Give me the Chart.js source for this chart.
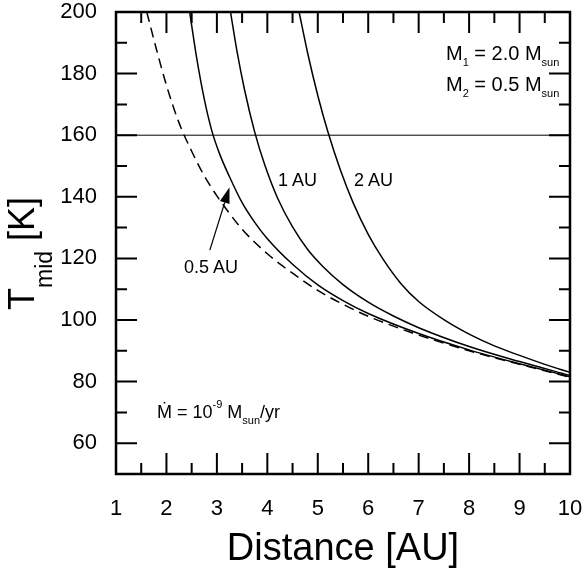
<!DOCTYPE html>
<html>
<head>
<meta charset="utf-8">
<script src="https://cdn.jsdelivr.net/npm/chart.js@4.4.1/dist/chart.umd.min.js"></script>
<style>
  html, body { margin: 0; padding: 0; background: #fff; }
  #wrap { position: relative; width: 584px; height: 573px; font-family: "Liberation Sans", Arial, sans-serif; color: #000; }
  #wrap canvas { position: absolute; left: 0; top: 0; }
  .note { position: absolute; white-space: nowrap; line-height: 1; }
  .sub { position: relative; }
</style>
</head>
<body>
<div id="wrap">
  <canvas id="myChart" width="584" height="573"></canvas>
  <div class="note" style="left:446px; top:43px; font-size:20px;">M<span class="sub" style="font-size:11px; top:6px;">1</span> = 2.0 M<span class="sub" style="font-size:11px; top:6px;">sun</span></div>
  <div class="note" style="left:446px; top:74px; font-size:20px;">M<span class="sub" style="font-size:11px; top:6px;">2</span> = 0.5 M<span class="sub" style="font-size:11px; top:6px;">sun</span></div>
  <div class="note" style="left:157px; top:403px; font-size:18px;">Ṁ = 10<span class="sub" style="font-size:11px; top:-10px;">-9</span> M<span class="sub" style="font-size:11px; top:6px;">sun</span>/yr</div>
  <div class="note" style="left:278px; top:171px; font-size:18px;">1 AU</div>
  <div class="note" style="left:354px; top:171px; font-size:18px;">2 AU</div>
  <div class="note" style="left:184px; top:258px; font-size:18px;">0.5 AU</div>
  <div class="note" style="left:4px; top:310px; font-size:36px; transform-origin:left top; transform:rotate(-90deg);">T<span class="sub" style="font-size:23px; top:18px;">mid</span> [K]</div>
</div>
<script>
// single star (dashed)
const distSingle = [1.61, 1.8, 2, 2.25, 2.5, 2.75, 3, 3.5, 4, 4.5, 5, 5.5, 6, 6.5, 7, 8, 9, 10];
const tempSingle = [200, 188, 176.2, 164, 154.8, 146.8, 140.3, 129.5, 121.5, 115.2, 109.6, 105.1, 101.2, 98, 95.1, 90, 85.6, 81.4];

// binary separation 0.5 AU
const dist05 = [2.46, 2.6, 2.75, 2.9, 3.05, 3.25, 3.5, 3.75, 4, 4.5, 5, 5.5, 6, 7, 8, 9, 10];
const temp05 = [200, 185, 171.7, 161.4, 154.1, 146.5, 138.1, 131.7, 126.4, 118.1, 111.4, 106.3, 102.1, 95.6, 90.3, 85.8, 81.6];

// binary separation 1 AU
const dist1 = [3.27, 3.4, 3.55, 3.75, 3.95, 4.2, 4.5, 4.8, 5.1, 5.5, 6, 6.5, 7, 8, 9, 10];
const temp1 = [200, 187.1, 174.6, 161, 150.3, 139.7, 130.2, 122.9, 117.4, 111.5, 105.8, 101.3, 97.5, 91.4, 86.5, 82];

// binary separation 2 AU
const dist2 = [4.63, 4.8, 5, 5.2, 5.45, 5.7, 6, 6.3, 6.65, 7, 7.5, 8, 8.5, 9, 9.5, 10];
const temp2 = [200, 186.6, 172.9, 161.1, 148.6, 138.1, 127.8, 119.6, 111.8, 106, 100.1, 95.4, 91.6, 88.5, 85.6, 83];

const iceLineT = 160;

const xTicks = [1, 2, 3, 4, 5, 6, 7, 8, 9, 10];
const yTicks = [60, 80, 100, 120, 140, 160, 180, 200];

// arrow pointing at the 0.5 AU curve (data coords)
const arrowFrom = [2.86, 122.7];
const arrowTo = [3.25, 143.1];

function pts(xs, ys) {
    return xs.map((v, i) => ({ x: v, y: ys[i] }));
}
function mids(arr) {
    const out = [];
    for (let i = 0; i < arr.length - 1; i++) out.push((arr[i] + arr[i + 1]) / 2);
    return out;
}

const frameTicks = {
    id: 'frameTicks',
    afterDatasetsDraw(chart) {
        const { ctx, chartArea: a, scales: { x, y } } = chart;
        ctx.save();
        ctx.strokeStyle = '#000';
        ctx.lineWidth = 2;
        ctx.beginPath();
        const tickX = (vals, len) => vals.forEach(v => {
            const p = x.getPixelForValue(v);
            ctx.moveTo(p, a.bottom); ctx.lineTo(p, a.bottom - len);
            ctx.moveTo(p, a.top); ctx.lineTo(p, a.top + len);
        });
        const tickY = (vals, len) => vals.forEach(v => {
            const p = y.getPixelForValue(v);
            ctx.moveTo(a.left, p); ctx.lineTo(a.left + len, p);
            ctx.moveTo(a.right, p); ctx.lineTo(a.right - len, p);
        });
        tickX(xTicks, 21);
        tickX(mids(xTicks), 11);
        tickY(yTicks, 21);
        tickY(mids(yTicks), 11);
        ctx.stroke();

        ctx.lineWidth = 2.5;
        ctx.strokeRect(a.left, a.top, a.right - a.left, a.bottom - a.top);

        // arrow
        const x0 = x.getPixelForValue(arrowFrom[0]), y0 = y.getPixelForValue(arrowFrom[1]);
        const x1 = x.getPixelForValue(arrowTo[0]), y1 = y.getPixelForValue(arrowTo[1]);
        const ang = Math.atan2(y1 - y0, x1 - x0);
        const hl = 16, hw = 5;
        const bx = x1 - hl * Math.cos(ang), by = y1 - hl * Math.sin(ang);
        ctx.lineWidth = 1.2;
        ctx.beginPath();
        ctx.moveTo(x0, y0);
        ctx.lineTo(bx, by);
        ctx.stroke();
        ctx.fillStyle = '#000';
        ctx.beginPath();
        ctx.moveTo(x1, y1);
        ctx.lineTo(bx + hw * Math.sin(ang), by - hw * Math.cos(ang));
        ctx.lineTo(bx - hw * Math.sin(ang), by + hw * Math.cos(ang));
        ctx.closePath();
        ctx.fill();
        ctx.restore();
    }
};

const lineStyle = {
    showLine: true,
    pointRadius: 0,
    borderColor: '#000',
    borderWidth: 1.5,
    fill: false,
    cubicInterpolationMode: 'monotone'
};

new Chart(document.getElementById('myChart'), {
    type: 'scatter',
    data: {
        datasets: [
            { ...lineStyle, label: 'single', data: pts(distSingle, tempSingle), borderDash: [10, 6] },
            { ...lineStyle, label: '0.5 AU', data: pts(dist05, temp05) },
            { ...lineStyle, label: '1 AU', data: pts(dist1, temp1) },
            { ...lineStyle, label: '2 AU', data: pts(dist2, temp2) },
            { ...lineStyle, label: 'T = 160 K', borderWidth: 1, cubicInterpolationMode: 'default',
              data: [{ x: xTicks[0], y: iceLineT }, { x: xTicks[xTicks.length - 1], y: iceLineT }] }
        ]
    },
    options: {
        responsive: false,
        devicePixelRatio: 1,
        animation: false,
        layout: { padding: { top: 12, right: 14, left: 0, bottom: 0 } },
        plugins: { legend: { display: false }, tooltip: { enabled: false } },
        scales: {
            x: {
                type: 'linear',
                min: 1,
                max: 10,
                grid: { display: false, drawTicks: false, tickLength: 0 },
                border: { display: false },
                afterBuildTicks: (s) => { s.ticks = xTicks.map(v => ({ value: v })); },
                afterFit: (s) => { s.height = 99; s.paddingLeft = 0; s.paddingRight = 0; },
                ticks: {
                    color: '#000',
                    padding: 22,
                    maxRotation: 0,
                    font: { family: '"Liberation Sans", Arial, sans-serif', size: 22 }
                },
                title: {
                    display: true,
                    text: 'Distance [AU]',
                    color: '#000',
                    padding: { top: 0, bottom: 1 },
                    font: { family: '"Liberation Sans", Arial, sans-serif', size: 38 }
                }
            },
            y: {
                type: 'linear',
                min: 50,
                max: 200,
                grid: { display: false, drawTicks: false, tickLength: 0 },
                border: { display: false },
                afterBuildTicks: (s) => { s.ticks = yTicks.map(v => ({ value: v })); },
                afterFit: (s) => { s.width = 116; s.paddingTop = 0; s.paddingBottom = 0; },
                ticks: {
                    color: '#000',
                    padding: 19,
                    font: { family: '"Liberation Sans", Arial, sans-serif', size: 22 }
                }
            }
        }
    },
    plugins: [frameTicks]
});
</script>
</body>
</html>
